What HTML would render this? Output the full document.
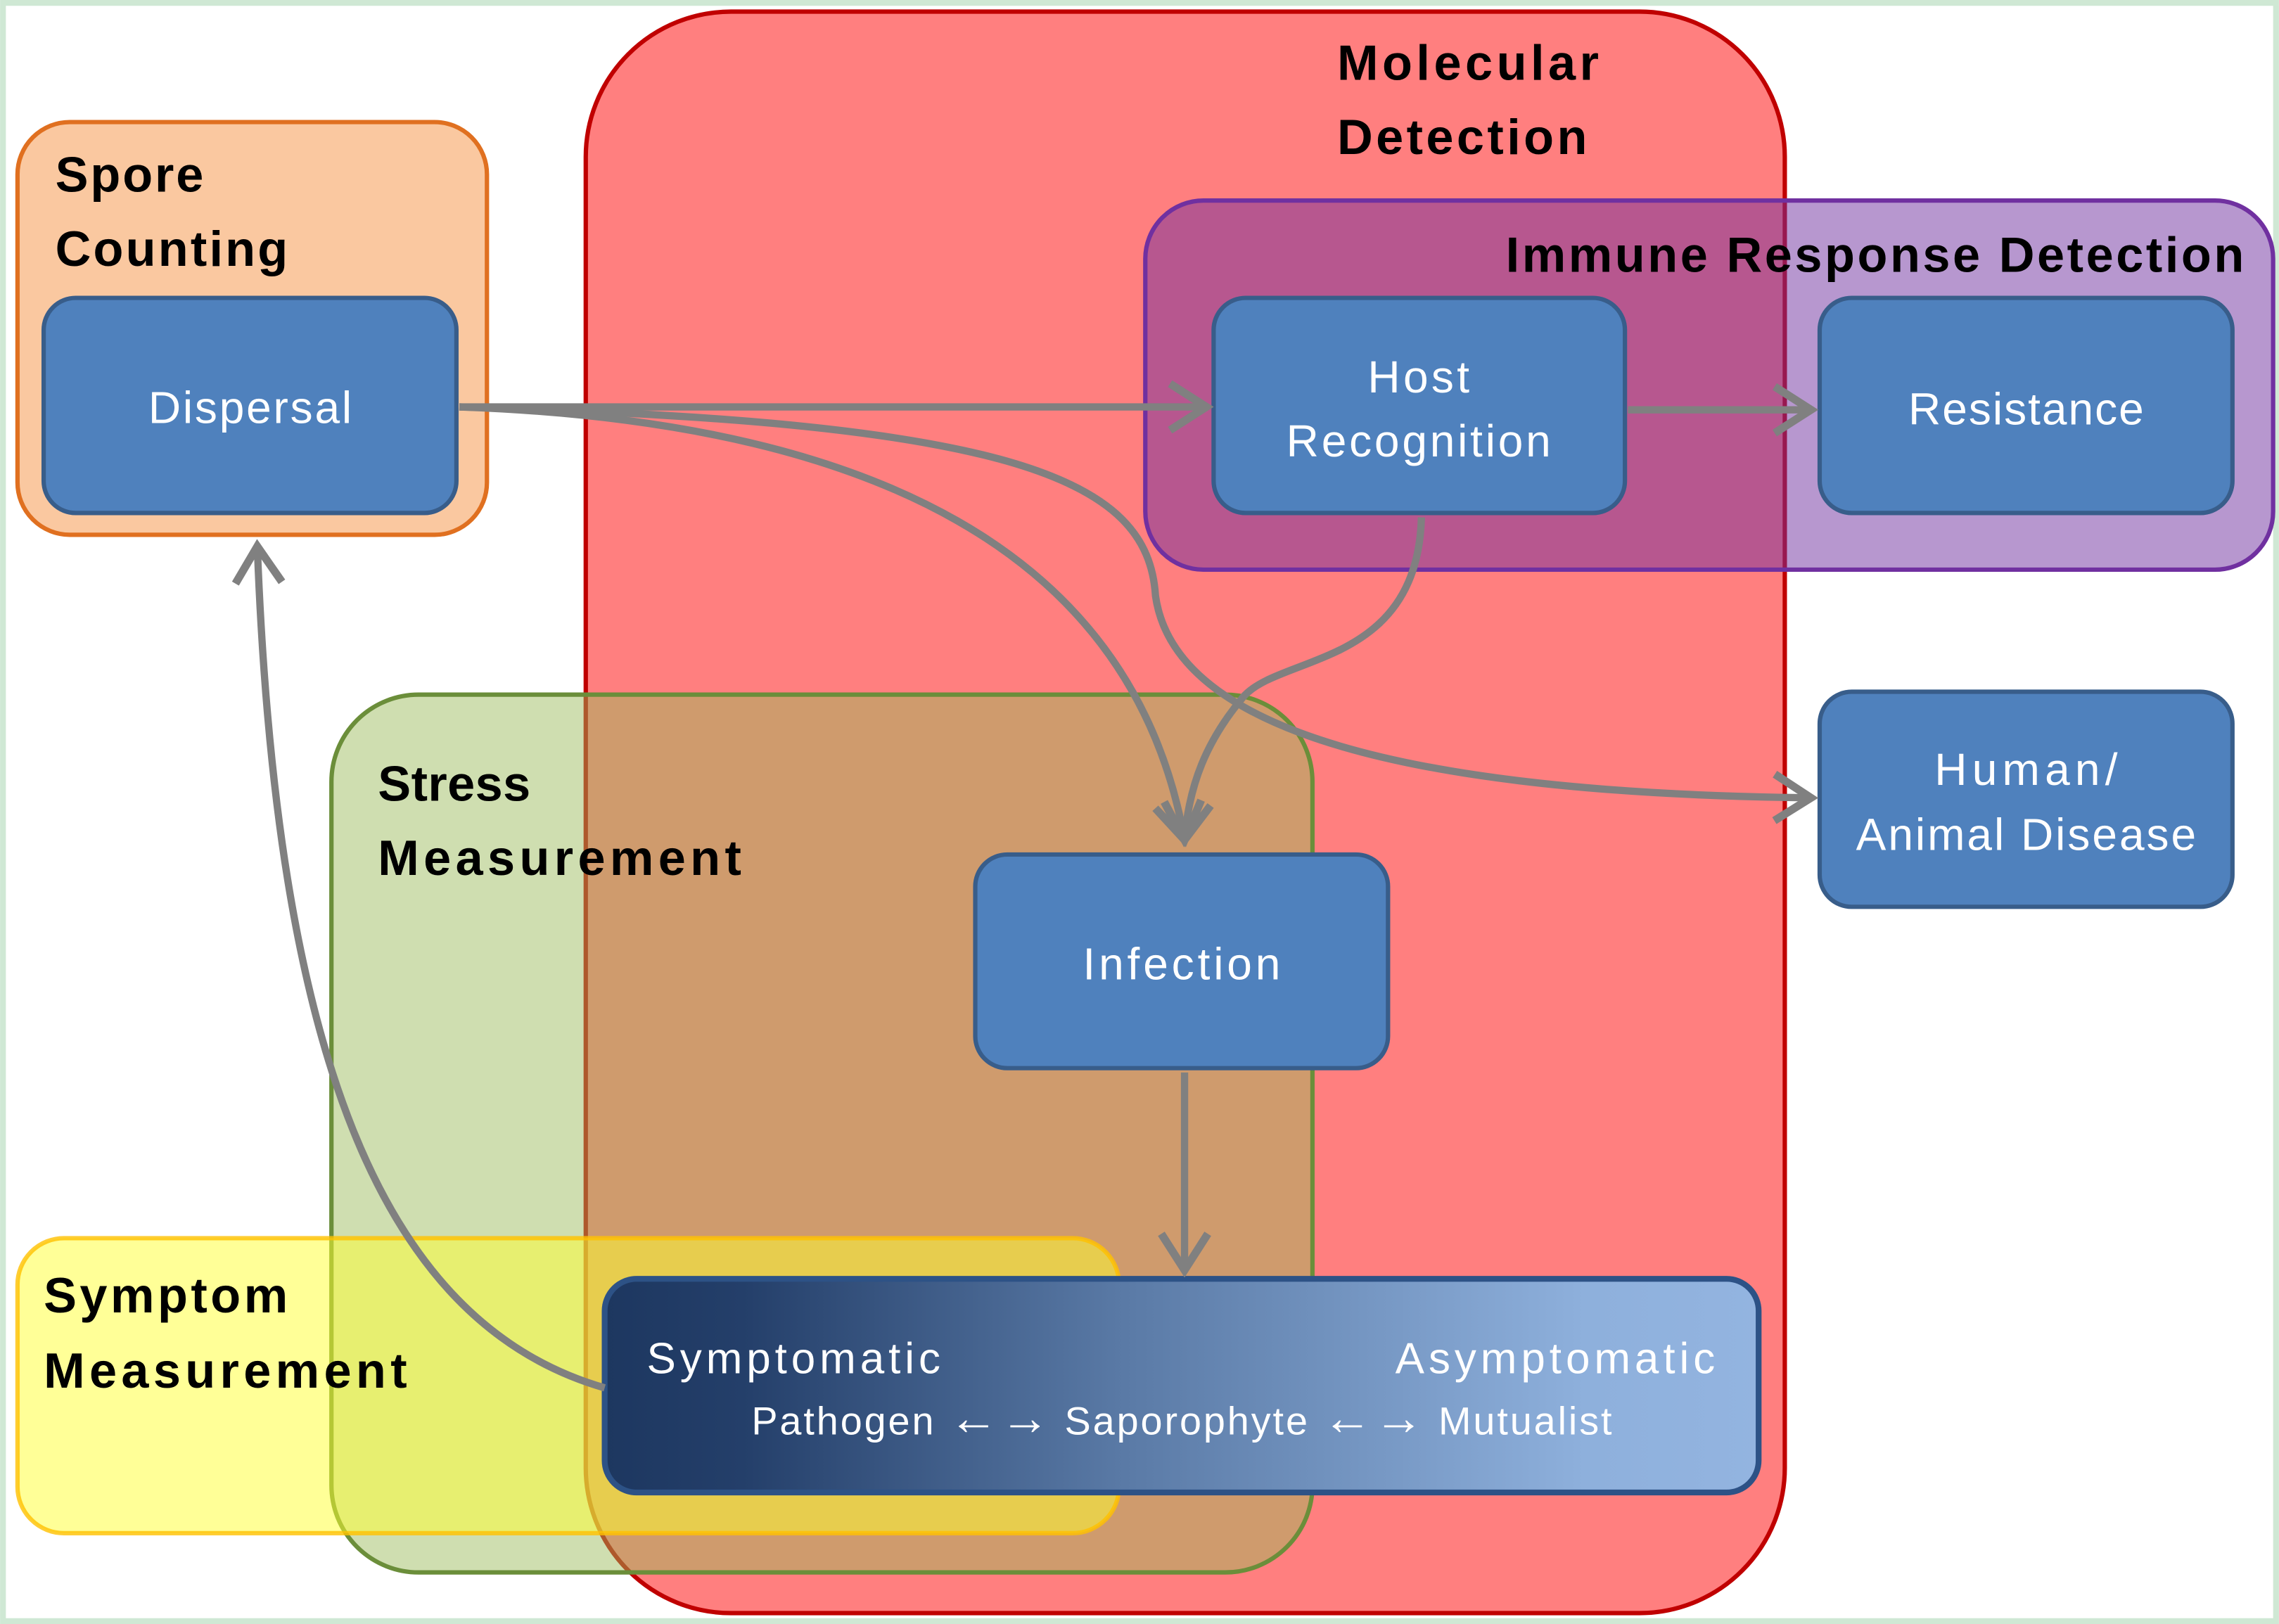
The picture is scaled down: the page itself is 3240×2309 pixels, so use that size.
<!DOCTYPE html>
<html><head><meta charset="utf-8"><style>
html,body{margin:0;padding:0;background:#fff;}
svg{display:block;}
text{font-family:"Liberation Sans",sans-serif;}
</style></head><body>
<svg width="3240" height="2309" viewBox="0 0 1568 1117.5" xmlns="http://www.w3.org/2000/svg">
<defs>
<marker id="ah" markerWidth="8" markerHeight="8" refX="6" refY="4" orient="auto" markerUnits="strokeWidth">
<polyline points="1,0.8 6,4 1,7.2" fill="none" stroke="#808080" stroke-width="1.1"/>
</marker>
<linearGradient id="bg" x1="0" x2="1" y1="0" y2="0">
<stop offset="0" stop-color="#1d3760"/>
<stop offset="0.12" stop-color="#243f6a"/>
<stop offset="0.45" stop-color="#5a7aa6"/>
<stop offset="0.85" stop-color="#8eb0dc"/>
<stop offset="1" stop-color="#93b4e0"/>
</linearGradient>
</defs>
<rect x="0" y="0" width="1568" height="1117.5" fill="#fff"/>
<rect x="2" y="2" width="1564" height="1113.5" fill="none" stroke="#cfe8d4" stroke-width="4"/>

<!-- Spore Counting -->
<rect x="12" y="84" width="323" height="284" rx="36" fill="#fac8a0" stroke="#e07020" stroke-width="3"/>
<text x="38" y="132" font-size="34" font-weight="bold" textLength="102">Spore</text>
<text x="38" y="183" font-size="34" font-weight="bold" textLength="160">Counting</text>
<rect x="30" y="205" width="284" height="148" rx="22" fill="#4f81bd" stroke="#385d8a" stroke-width="3"/>
<text x="172" y="291" font-size="31" fill="#fff" text-anchor="middle" textLength="140">Dispersal</text>

<!-- Red -->
<rect x="403" y="8" width="825" height="1102" rx="100" fill="#ff3030" fill-opacity="0.62" stroke="#c00000" stroke-width="3"/>
<!-- Purple -->
<rect x="788" y="138" width="776" height="254" rx="40" fill="#7030a0" fill-opacity="0.5" stroke="#7030a0" stroke-width="3"/>
<!-- Green -->
<rect x="228" y="478" width="675" height="604" rx="60" fill="#9bbb59" fill-opacity="0.48" stroke="#6b8e3a" stroke-width="3"/>
<!-- Yellow -->
<rect x="12" y="852" width="758" height="203" rx="32" fill="#ffff30" fill-opacity="0.5" stroke="#ffc000" stroke-width="3" stroke-opacity="0.8"/>

<text x="920" y="55" font-size="34" font-weight="bold" textLength="180">Molecular</text>
<text x="920" y="106" font-size="34" font-weight="bold" textLength="172">Detection</text>
<text x="1036" y="187" font-size="34" font-weight="bold" textLength="508">Immune Response Detection</text>
<text x="260" y="551" font-size="34" font-weight="bold" textLength="105">Stress</text>
<text x="260" y="602" font-size="34" font-weight="bold" textLength="250">Measurement</text>
<text x="30" y="903" font-size="34" font-weight="bold" textLength="168">Symptom</text>
<text x="30" y="955" font-size="34" font-weight="bold" textLength="250">Measurement</text>

<!-- nodes -->
<rect x="835" y="205" width="283" height="148" rx="22" fill="#4f81bd" stroke="#385d8a" stroke-width="3"/>
<text x="976" y="270" font-size="31" fill="#fff" text-anchor="middle" textLength="70">Host</text>
<text x="976" y="314" font-size="31" fill="#fff" text-anchor="middle" textLength="182">Recognition</text>
<rect x="1252" y="205" width="284" height="148" rx="22" fill="#4f81bd" stroke="#385d8a" stroke-width="3"/>
<text x="1394" y="292" font-size="31" fill="#fff" text-anchor="middle" textLength="162">Resistance</text>
<rect x="1252" y="476" width="284" height="148" rx="22" fill="#4f81bd" stroke="#385d8a" stroke-width="3"/>
<text x="1394" y="540" font-size="31" fill="#fff" text-anchor="middle" textLength="126">Human/</text>
<text x="1394" y="585" font-size="31" fill="#fff" text-anchor="middle" textLength="234">Animal Disease</text>
<rect x="671" y="588" width="284" height="147" rx="22" fill="#4f81bd" stroke="#385d8a" stroke-width="3"/>
<text x="813" y="674" font-size="31" fill="#fff" text-anchor="middle" textLength="136">Infection</text>

<rect x="416" y="880" width="794" height="147" rx="22" fill="url(#bg)" stroke="#2d5286" stroke-width="4"/>
<text x="445" y="945" font-size="30" fill="#fff" textLength="202">Symptomatic</text>
<text x="1180" y="945" font-size="30" fill="#fff" text-anchor="end" textLength="220">Asymptomatic</text>
<text x="517" y="987" font-size="27" fill="#fff" textLength="592">Pathogen <tspan font-size="34">←→</tspan> Saporophyte <tspan font-size="34">←→</tspan> Mutualist</text>

<!-- connectors -->
<g fill="none" stroke="#808080" stroke-width="5" marker-end="url(#ah)">
<path d="M316,280 L830,280"/>
<path d="M1120,282 L1246,282"/>
<path d="M316,280 C600,290 780,380 815,578"/>
<path d="M316,280 C700,290 790,330 795,410 C805,480 900,545 1246,549"/>
<path d="M978,356 C975,460 880,450 855,480 C830,510 818,540 815,578"/>
<path d="M815,738 L815,874"/>
<path d="M416,955 C260,910 190,720 177,376"/>
</g>
</svg>
</body></html>
